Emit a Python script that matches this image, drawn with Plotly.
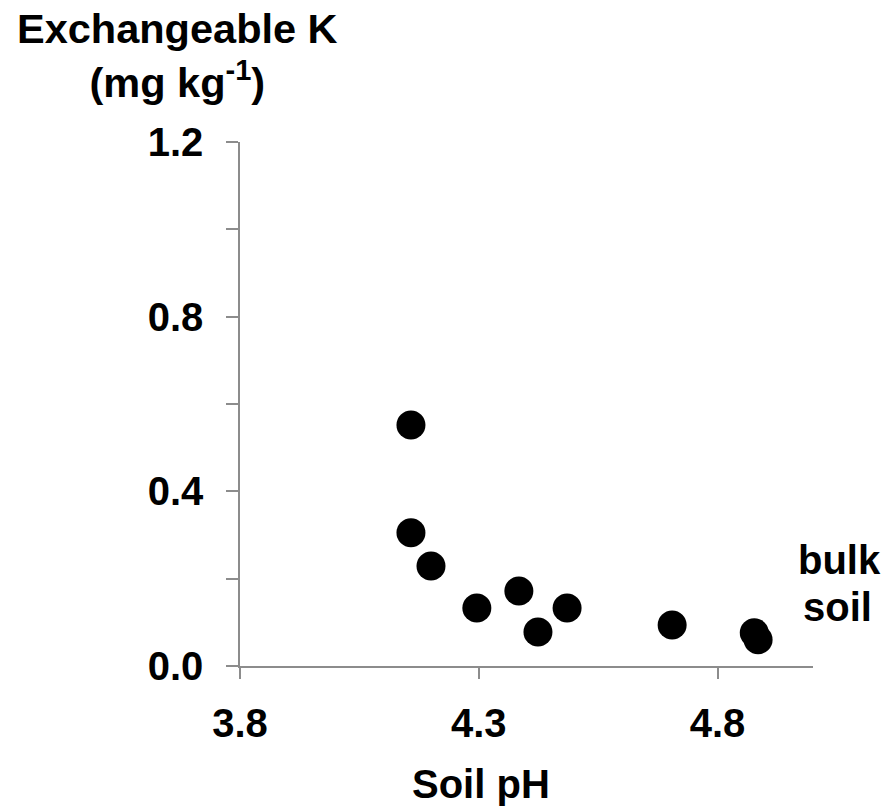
import plotly.graph_objects as go

# Data
soil_ph = [4.158, 4.158, 4.200, 4.296, 4.384, 4.424, 4.485, 4.705, 4.877, 4.885]
exch_k = [0.552, 0.305, 0.229, 0.133, 0.172, 0.078, 0.133, 0.094, 0.076, 0.060]

x_ticks = [3.8, 4.3, 4.8]
x_tick_labels = ["3.8", "4.3", "4.8"]
y_ticks = [0.0, 0.4, 0.8, 1.2]
y_tick_labels = ["0.0", "0.4", "0.8", "1.2"]

FONT = "Liberation Sans, Arial, sans-serif"
AX = "#8c8c8c"

# plot area at x 240..813, y 142..666 in the 886x811 window (body margin removed)
W, H = 886, 811
L, R, T, B = 240, 73, 142, 145
PW = W - L - R
PH = H - T - B


def px_x(px):
    return (px - L) / PW


def px_y(py):
    return 1 - (py - T) / PH


fig = go.Figure()
fig.add_trace(go.Scatter(
    x=soil_ph, y=exch_k, mode="markers",
    marker=dict(color="black", size=29, line=dict(width=0)),
    showlegend=False, cliponaxis=False, hoverinfo="skip",
))

fig.update_layout(
    width=W, height=H,
    margin=dict(l=L, r=R, t=T, b=B),
    paper_bgcolor="white", plot_bgcolor="white",
    font=dict(family=FONT, size=40, color="black", weight="bold"),
    xaxis=dict(
        range=[3.8, 5.0], showgrid=False, zeroline=False,
        showline=True, linecolor=AX, linewidth=1.5,
        ticks="outside", ticklen=11, tickwidth=1.5, tickcolor=AX,
        tickvals=x_ticks, ticktext=x_tick_labels,
        ticklabelstandoff=10,
        tickfont=dict(family=FONT, size=40, color="black", weight="bold"),
    ),
    yaxis=dict(
        range=[0, 1.2], showgrid=False, zeroline=False,
        showline=True, linecolor=AX, linewidth=1.5,
        ticks="outside", ticklen=12, tickwidth=1.5, tickcolor=AX,
        tickvals=y_ticks, ticktext=y_tick_labels,
        ticklabelstandoff=15,
        tickfont=dict(family=FONT, size=40, color="black", weight="bold"),
        minor=dict(tickvals=[0.2, 0.6, 1.0], ticks="outside", ticklen=12,
                   tickwidth=1.5, tickcolor=AX, showgrid=False),
    ),
)

fig.add_annotation(
    text="Exchangeable K<br>(mg kg<sup>-1</sup>)",
    xref="paper", yref="paper", x=px_x(177), y=px_y(3),
    xanchor="center", yanchor="top", showarrow=False, align="center",
    font=dict(family=FONT, size=41.5, color="black", weight="bold"),
)
fig.add_annotation(
    text="Soil pH",
    xref="paper", yref="paper", x=px_x(481), y=px_y(784),
    xanchor="center", yanchor="middle", showarrow=False,
    font=dict(family=FONT, size=40, color="black", weight="bold"),
)
fig.add_annotation(
    text="bulk", xref="paper", yref="paper",
    x=px_x(839), y=px_y(560),
    xanchor="center", yanchor="middle", showarrow=False,
    font=dict(family=FONT, size=40, color="black", weight="bold"),
)
fig.add_annotation(
    text="soil", xref="paper", yref="paper",
    x=px_x(837), y=px_y(607),
    xanchor="center", yanchor="middle", showarrow=False,
    font=dict(family=FONT, size=40, color="black", weight="bold"),
)

fig.write_html(
    "out.html",
    config={"displayModeBar": False},
    post_script="document.body.style.margin='0px';document.body.style.overflow='hidden';",
)
